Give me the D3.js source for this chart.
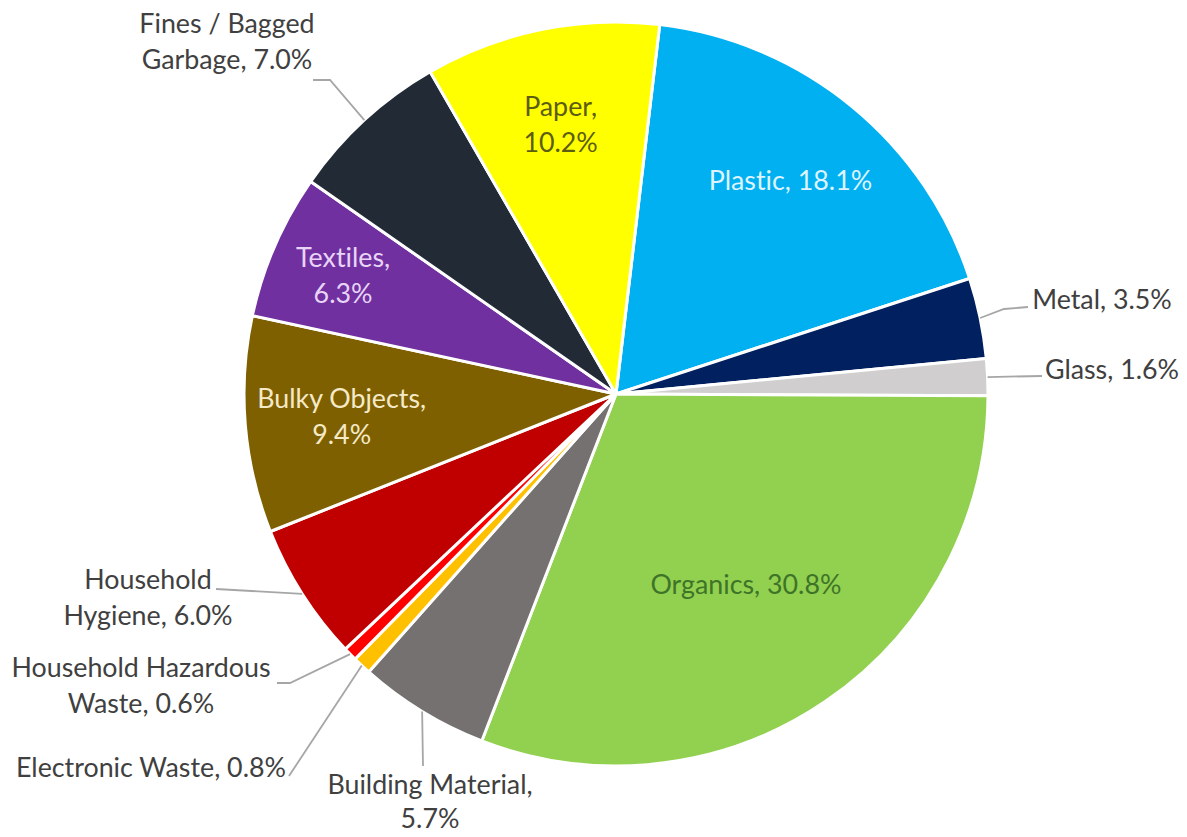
<!DOCTYPE html>
<html>
<head>
<meta charset="utf-8">
<script src="https://cdn.jsdelivr.net/npm/d3@7"></script>
<style>
  html, body { margin: 0; padding: 0; background: #ffffff; }
  svg { display: block; }
  text { font-family: Lato, "Open Sans", sans-serif; font-variant-ligatures: none; font-feature-settings: "liga" 0; }
</style>
</head>
<body>
<svg id="chart" width="1187" height="837"></svg>
<script>
// ---- data ----
const categories = ["Plastic", "Metal", "Glass", "Organics", "Building Material",
  "Electronic Waste", "Household Hazardous Waste", "Household Hygiene",
  "Bulky Objects", "Textiles", "Fines / Bagged Garbage", "Paper"];
const values = [18.1, 3.5, 1.6, 30.8, 5.7, 0.8, 0.6, 6.0, 9.4, 6.3, 7.0, 10.2];
const colors = ["#00B0F0", "#002060", "#D0CECE", "#92D050", "#767171", "#FFC000",
  "#FF0000", "#C00000", "#7F6000", "#7030A0", "#222A35", "#FFFF00"];
// label text lines (category part, value appended)
const labelLines = [
  ["Plastic, {v}"], ["Metal, {v}"], ["Glass, {v}"], ["Organics, {v}"],
  ["Building Material,", "{v}"], ["Electronic Waste, {v}"],
  ["Household Hazardous", "Waste, {v}"], ["Household", "Hygiene, {v}"],
  ["Bulky Objects,", "{v}"], ["Textiles,", "{v}"], ["Fines / Bagged", "Garbage, {v}"],
  ["Paper,", "{v}"]
];

// ---- layout ----
const W = 1187, H = 837;
const cx = 616, cy = 394, R = 372;
const startDeg = 6.75;
const lineH = 36;
const fontSize = 26.8;
// inside labels: radius fraction; outside labels: text center + leader elbow/end
const labelLayout = [
  { inside: true, rf: 0.74, fill: "#DDF4FF" },
  { x: 1102, y: 300, pts: [[1004, 309], [1028, 307]] },
  { x: 1112, y: 370, pts: [[1042, 376]] },
  { inside: true, rf: 0.62, fill: "#3E7428" },
  { x: 430, y: 785, lh: 34, pts: [[423, 766]] },
  { x: 151, y: 768, pts: [[289, 776]] },
  { x: 141, y: 668, pts: [[290, 683], [277, 683]] },
  { x: 148, y: 580, pts: [[216, 589]] },
  { inside: true, rf: 0.74, fill: "#F5EAC8" },
  { inside: true, rf: 0.80, fill: "#E8D4F6" },
  { x: 227, y: 24, pts: [[330, 80], [313, 80]] },
  { inside: true, rf: 0.74, fill: "#5C5C12" }
];

const svg = d3.select("#chart");
const g = svg.append("g").attr("transform", `translate(${cx},${cy})`);

const data = categories.map((c, i) => ({ c, v: values[i], i }));
const pie = d3.pie().value(d => d.v).sort(null)
  .startAngle(startDeg * Math.PI / 180)
  .endAngle(startDeg * Math.PI / 180 + 2 * Math.PI);
const arcs = pie(data);
const arc = d3.arc().innerRadius(0).outerRadius(R);

g.selectAll("path.slice").data(arcs).join("path")
  .attr("class", "slice")
  .attr("d", arc)
  .attr("fill", d => colors[d.data.i])
  .attr("stroke", "#ffffff")
  .attr("stroke-width", 3)
  .attr("stroke-linejoin", "round");

const fmt = v => v.toFixed(1) + "%";
const polar = (a, r) => [Math.sin(a) * r, -Math.cos(a) * r];

arcs.forEach(d => {
  const i = d.data.i;
  const L = labelLayout[i];
  const lh = L.lh || lineH;
  const mid = (d.startAngle + d.endAngle) / 2;
  const lines = labelLines[i].map(s => s.replace("{v}", fmt(d.data.v)));
  let tx, ty, fill;
  if (L.inside) {
    const p = polar(mid, R * L.rf);
    tx = cx + p[0];
    ty = cy + p[1] - (lines.length - 1) * lh / 2;
    fill = L.fill;
  } else {
    tx = L.x; ty = L.y; fill = "#404040";
    const e = polar(mid, R);
    const pts = [[cx + e[0], cy + e[1]]].concat(L.pts);
    svg.append("path")
      .attr("d", d3.line()(pts))
      .attr("fill", "none")
      .attr("stroke", "#A6A6A6")
      .attr("stroke-width", 1.8);
  }
  const t = svg.append("text")
    .attr("text-anchor", "middle")
    .attr("font-size", fontSize)
    .attr("fill", fill);
  lines.forEach((s, k) => {
    t.append("tspan").attr("x", tx).attr("y", ty + k * lh).attr("dy", "0.35em").text(s);
  });
});
</script>
</body>
</html>
